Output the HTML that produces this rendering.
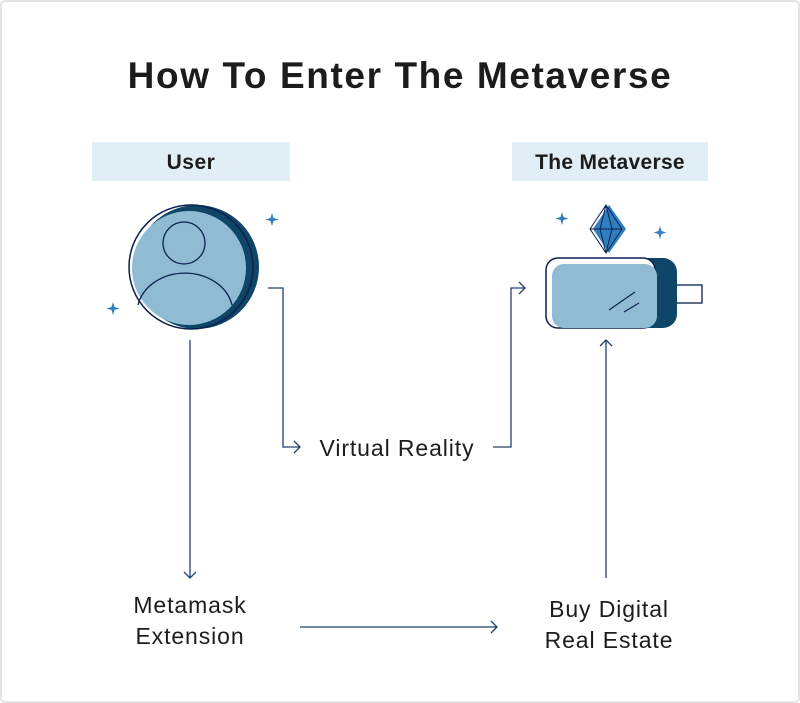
<!DOCTYPE html>
<html><head><style>
html,body{margin:0;padding:0;background:#fff;}
svg{display:block;}
</style></head><body>
<svg width="800" height="703" viewBox="0 0 800 703" xmlns="http://www.w3.org/2000/svg" font-family="Liberation Sans, sans-serif">
<rect x="1" y="1" width="798" height="701" rx="4" fill="#fff" stroke="#e4e4e4" stroke-width="2"/>
<text x="400" y="88" text-anchor="middle" font-size="37" font-weight="bold" letter-spacing="1.6" fill="#1c1c1c">How To Enter The Metaverse</text>
<rect x="92" y="142" width="198" height="39" fill="#e1eef6"/>
<text x="191" y="169" text-anchor="middle" font-size="21" font-weight="bold" letter-spacing="0.5" fill="#1c1c1c">User</text>
<rect x="512" y="142" width="196" height="39" fill="#e1eef6"/>
<text x="610" y="169" text-anchor="middle" font-size="21" font-weight="bold" letter-spacing="0.3" fill="#1c1c1c">The Metaverse</text>
<!-- user icon -->
<circle cx="197" cy="267" r="62" fill="#0f4566"/>
<circle cx="189" cy="268" r="57" fill="#90bcd3"/>
<circle cx="191" cy="267" r="62" fill="none" stroke="#0b2150" stroke-width="1.5"/>
<circle cx="184" cy="243" r="21" fill="none" stroke="#0b2150" stroke-width="1.3"/>
<path d="M138 305 A48 40 0 0 1 232 305" fill="none" stroke="#0b2150" stroke-width="1.3"/>
<path d="M272 213 l1.5 5 l5 1.5 l-5 1.5 l-1.5 5 l-1.5 -5 l-5 -1.5 l5 -1.5z" fill="#2f7fc0"/>
<path d="M113 302 l1.5 5 l5 1.5 l-5 1.5 l-1.5 5 l-1.5 -5 l-5 -1.5 l5 -1.5z" fill="#2f7fc0"/>
<!-- headset -->
<path d="M562 212 l1.5 5 l5 1.5 l-5 1.5 l-1.5 5 l-1.5 -5 l-5 -1.5 l5 -1.5z" fill="#2f7fc0"/>
<path d="M660 226 l1.5 5 l5 1.5 l-5 1.5 l-1.5 5 l-1.5 -5 l-5 -1.5 l5 -1.5z" fill="#2f7fc0"/>
<path d="M609 205 L626 229 L609 253 L593 229Z" fill="#2f7fc0"/>
<path d="M606 205 L622 229 L606 253 L590 229Z M590 229 L622 229 M606 205 L600 229 L606 253 M606 205 L612 229 L606 253" fill="none" stroke="#0b2150" stroke-width="1"/>
<rect x="675" y="285" width="27" height="18" fill="#fff" stroke="#0b2150" stroke-width="1.3"/>
<rect x="625" y="258" width="52" height="70" rx="14" fill="#0f4566"/>
<rect x="546" y="258" width="109" height="70" rx="12" fill="#fff" stroke="#0b2150" stroke-width="1.5"/>
<rect x="552" y="264" width="105" height="64" rx="12" fill="#90bcd3"/>
<path d="M609 310 L635 292 M624 312 L639 303" stroke="#0b2150" stroke-width="1.2"/>
<!-- connectors -->
<g fill="none" stroke="#22406e" stroke-width="1.3">
<path d="M190 340 V578 M184 572 L190 578 L196 572"/>
<path d="M268 288 H283 V447 H300 M294 441 L300 447 L294 453"/>
<path d="M493 447 H511 V288 H525 M519 282 L525 288 L519 294"/>
<path d="M300 627 H497 M491 621 L497 627 L491 633"/>
<path d="M606 578 V340 M600 346 L606 340 L612 346"/>
</g>
<g font-size="23" fill="#1c1c1c" text-anchor="middle" letter-spacing="0.9">
<text x="397" y="456">Virtual Reality</text>
<text x="190" y="613">Metamask</text>
<text x="190" y="644">Extension</text>
<text x="609" y="617">Buy Digital</text>
<text x="609" y="648">Real Estate</text>
</g>
</svg>
</body></html>
